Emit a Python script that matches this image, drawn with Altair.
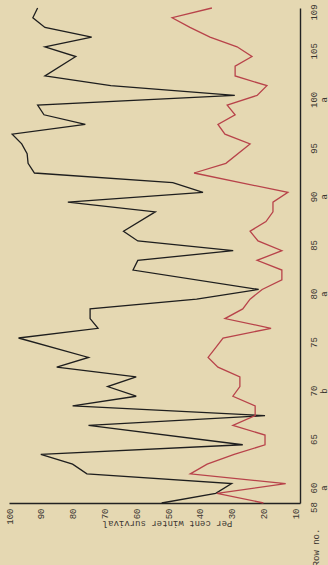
import altair as alt
import pandas as pd

# Black series (higher survival) - row numbers and per cent winter survival
black_rows = [58, 59, 60, 61, 62, 63, 64, 66, 67, 68, 69, 70, 71, 72, 73, 75, 76, 77, 78, 79,
              80, 82, 83, 84, 85, 86, 88, 89, 90, 91, 92, 93, 94, 95, 96, 97, 98, 99, 100,
              101, 102, 104, 105, 106, 107, 108, 109]
black_vals = [52, 35, 30, 75.5, 80, 90, 26.5, 75, 19.5, 80, 60, 69, 60, 85, 75, 97, 72, 74.5, 74.5, 41,
              21.5, 61, 59.5, 29.5, 59.5, 64, 54, 81.5, 39, 48.5, 92, 94, 94.3, 96, 99, 76, 89, 91, 29,
              68, 88.7, 79, 88.7, 74, 88.7, 92.5, 91]

# Red series (lower survival)
red_rows = [58, 59, 60, 61, 62, 63, 64, 65, 66, 67, 68, 69, 70, 71, 72, 73, 74, 75, 76, 77,
            78, 79, 80, 81, 82, 83, 84, 85, 86, 87, 88, 89, 90, 92, 93, 95, 96, 97, 98, 99,
            100, 101, 102, 103, 104, 105, 106, 107, 108, 109]
red_vals = [20, 34.6, 13, 43, 37.7, 29.2, 19.5, 19.5, 29.6, 22.6, 22.6, 29.6, 27.4, 27.4, 34.3, 37.4, 35, 32.7, 17.6, 32.1,
            26.5, 24.2, 20.4, 14.2, 14.2, 22, 14.2, 21.7, 24.2, 19.2, 17, 17, 12.3, 41.8, 31.8, 24.2, 32.1, 34.3, 28.9, 31.4,
            22, 18.9, 28.9, 28.9, 23.6, 28.3, 36.8, 43.1, 48.7, 36.2]

value_ticks = [100, 90, 80, 70, 60, 50, 40, 30, 20, 10]
row_ticks = [58, 60, 65, 70, 75, 80, 85, 90, 95, 100, 105, 109]

df = pd.concat([
    pd.DataFrame({"row": black_rows, "value": black_vals, "series": "black"}),
    pd.DataFrame({"row": red_rows, "value": red_vals, "series": "red"}),
])

FONT = "Liberation Mono"

chart = alt.Chart(df).mark_line(strokeWidth=1.3).encode(
    x=alt.X("value:Q",
            scale=alt.Scale(domain=[8.5, 100], reverse=True, nice=False, zero=False),
            axis=alt.Axis(values=value_ticks, labelAngle=270, ticks=False, grid=False,
                          labelFlush=False, labelOverlap=False, labelPadding=5,
                          labelFont=FONT, labelFontSize=9, labelColor="#3a3530",
                          domainColor="#222222", domainWidth=1.4,
                          title="Per cent winter survival", titleAngle=180,
                          titleX=158, titleY=20, titleAlign="center", titleBaseline="middle",
                          titleFont=FONT, titleFontSize=9, titleFontWeight="normal",
                          titleColor="#3a3530")),
    y=alt.Y("row:Q",
            scale=alt.Scale(domain=[58, 109], nice=False, zero=False),
            axis=alt.Axis(orient="right", values=row_ticks, labelAngle=270, ticks=False, grid=False,
                          labelFlush=False, labelOverlap=False, labelPadding=9, labelOffset=4,
                          labelAlign="center", labelBaseline="top", labelLineHeight=10,
                          labelExpr="(datum.value == 60 || datum.value == 80 || datum.value == 90 || datum.value == 100) ? [datum.label, 'a'] : (datum.value == 70 ? [datum.label, 'b'] : datum.label)",
                          labelFont=FONT, labelFontSize=9, labelColor="#3a3530",
                          domainColor="#222222", domainWidth=1.4,
                          title="Row no.", titleAngle=270, titleX=15, titleY=539,
                          titleAlign="center", titleBaseline="middle",
                          titleFont=FONT, titleFontSize=9, titleFontWeight="normal",
                          titleColor="#3a3530")),
    color=alt.Color("series:N",
                    scale=alt.Scale(domain=["black", "red"], range=["#1e1e1e", "#b8434a"]),
                    legend=None),
    order=alt.Order("row:Q"),
).properties(
    width=291, height=495,
    background="#e5d8b2",
    autosize=alt.AutoSizeParams(type="none"),
    padding={"left": 9, "top": 8, "right": 28, "bottom": 62},
).configure_view(stroke=None)

chart.save("out.html", embed_options={"renderer": "svg", "actions": False})
